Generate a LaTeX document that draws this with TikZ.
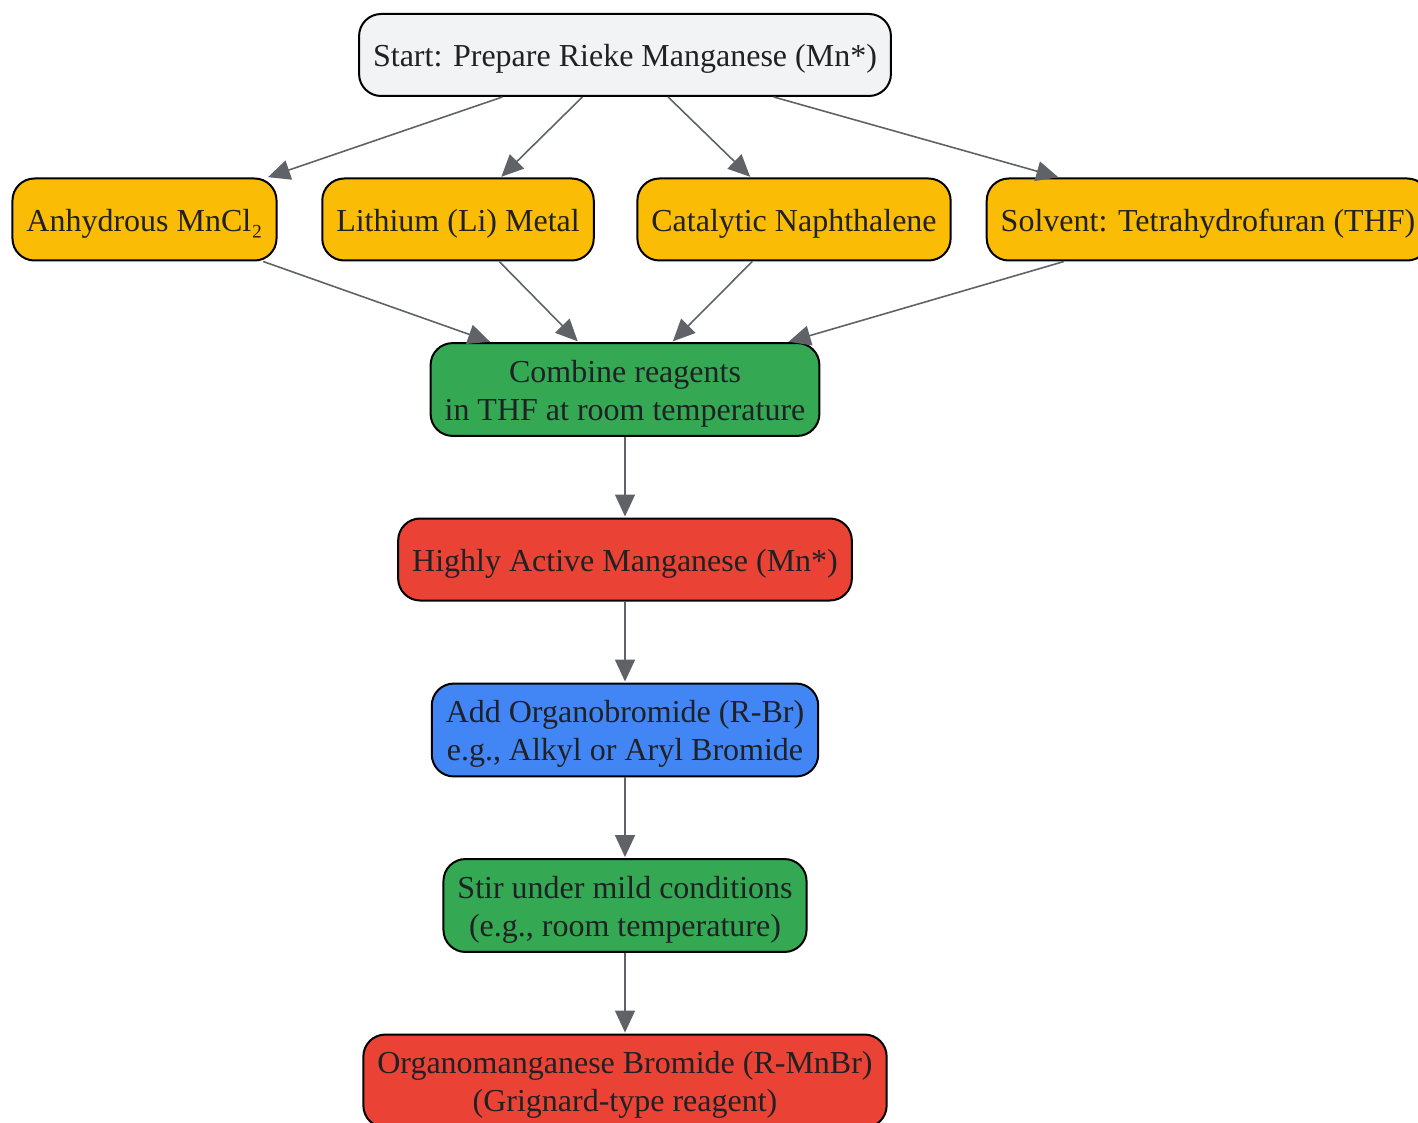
\documentclass[tikz,border=0pt]{standalone}
\usepackage{fontspec}
\setmainfont{Liberation Serif}
\usepackage{tikz}
\usetikzlibrary{arrows.meta}

\definecolor{startgray}{RGB}{241,243,244}
\definecolor{reagentyellow}{RGB}{251,188,5}
\definecolor{stepgreen}{RGB}{52,168,83}
\definecolor{productred}{RGB}{234,67,53}
\definecolor{addblue}{RGB}{66,133,244}
\definecolor{textdark}{RGB}{32,33,36}
\definecolor{edgegray}{RGB}{95,99,104}

% taller first line, so the text sits a little low as in the reference
\newcommand{\liftline}{\rule{0pt}{15pt}}

\tikzset{
  box/.style={draw=black, line width=1pt, rounded corners=11pt, align=center,
    text=textdark, inner xsep=7pt, inner ysep=4.5pt, minimum height=41pt,
    font=\fontsize{16}{19}\selectfont},
  flow/.style={draw=edgegray, line width=0.8pt,
    -{Triangle[length=11pt,width=10pt]}, shorten >=0.5pt},
}

\begin{document}
\begin{tikzpicture}[x=0.5pt,y=0.5pt,yscale=-1]
\useasboundingbox (0,0) rectangle (1418,1123);

% Start
\node[box, fill=startgray] (start) at (625,55) {\liftline Start: Prepare Rieke Manganese (Mn*)};

% Reagents
\node[box, fill=reagentyellow] (mncl) at (144.5,219.5) {\liftline Anhydrous MnCl₂};
\node[box, fill=reagentyellow] (lithium) at (458,219.5) {\liftline Lithium (Li) Metal};
\node[box, fill=reagentyellow] (naphth) at (794,219.5) {\liftline Catalytic Naphthalene};
\node[box, fill=reagentyellow] (thf) at (1208,219.5) {\liftline Solvent: Tetrahydrofuran (THF)};

% Steps
\node[box, fill=stepgreen] (combine) at (625,389.5) {\liftline Combine reagents\\in THF at room temperature};
\node[box, fill=productred] (active) at (625,559.5) {\liftline Highly Active Manganese (Mn*)};
\node[box, fill=addblue] (addrbr) at (625,730) {\liftline Add Organobromide (R-Br)\\e.g., Alkyl or Aryl Bromide};
\node[box, fill=stepgreen] (stir) at (625,905.5) {\liftline Stir under mild conditions\\(e.g., room temperature)};
\node[box, fill=productred] (product) at (625,1081) {\liftline Organomanganese Bromide (R-MnBr)\\(Grignard-type reagent)};

% Edges
\foreach \r in {mncl,lithium,naphth,thf}{
  \draw[flow] (start) -- (\r);
  \draw[flow] (\r) -- (combine);
}
\draw[flow] (combine) -- (active);
\draw[flow] (active) -- (addrbr);
\draw[flow] (addrbr) -- (stir);
\draw[flow] (stir) -- (product);

\end{tikzpicture}
\end{document}
